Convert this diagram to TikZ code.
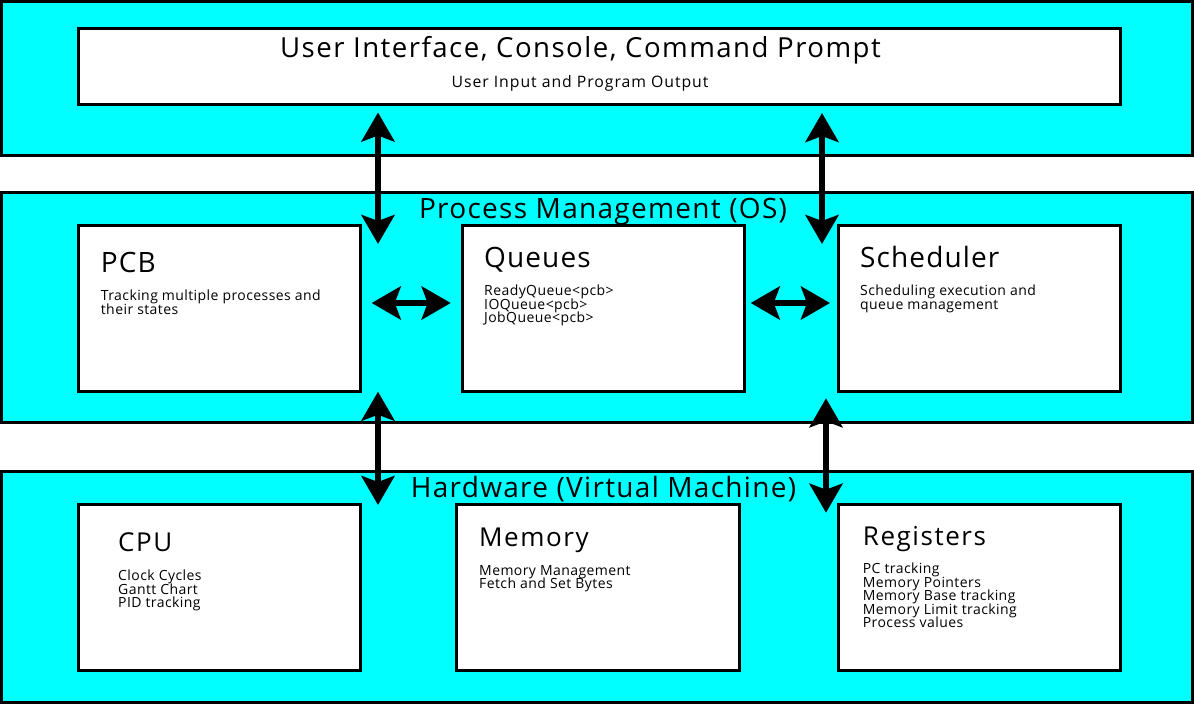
\documentclass[tikz,border=0pt]{standalone}
\usepackage{fontspec}
\setmainfont{Open Sans}
\usetikzlibrary{arrows.meta}
\definecolor{aqua}{RGB}{0,255,255}
\newcommand\mytightlines{\lineskiplimit=-50pt\relax\lineskip=0pt\relax}
\tikzset{
  layer/.style={draw=black, fill=aqua, line width=3pt, inner sep=0pt, outer sep=0pt},
  card/.style={draw=black, fill=white, line width=3pt, inner sep=0pt, outer sep=0pt, minimum width=282.2pt, minimum height=166pt},
  bigtitle/.style={font=\fontsize{27.6}{30}\selectfont\addfontfeature{LetterSpace=5.3}, inner sep=0pt, anchor=base},
  subtitle/.style={font=\fontsize{15.8}{18}\selectfont\addfontfeature{LetterSpace=6}, inner sep=0pt, anchor=base},
  sectitle/.style={font=\fontsize{28}{30}\selectfont\addfontfeature{LetterSpace=4.6}, inner sep=0pt, anchor=base},
  boxtitle/.style={font=\fontsize{28}{30}\selectfont\addfontfeature{LetterSpace=4}, inner sep=0pt, anchor=base west},
  lowtitle/.style={font=\fontsize{26}{28}\selectfont\addfontfeature{LetterSpace=6}, inner sep=0pt, anchor=base west},
  body/.style={font=\fontsize{14}{13.5}\selectfont\addfontfeature{LetterSpace=3}\mytightlines, inner sep=0pt, anchor=base west, align=left},
  link/.style={line width=6pt, {Stealth[length=29pt,width=33pt,inset=6pt]}-{Stealth[length=29pt,width=33pt,inset=6pt]}},
}
\begin{document}
\begin{tikzpicture}[x=1pt,y=-1pt]
\useasboundingbox (0,0) rectangle (1195,705);
% layers
\node[layer, minimum width=1190.5pt, minimum height=153.5pt] (toplayer) at (596.75,78.25) {};
\node[layer, minimum width=1190.5pt, minimum height=230.7pt] (oslayer) at (596.75,307.35) {};
\node[layer, minimum width=1190.5pt, minimum height=231pt] (hwlayer) at (596.75,586.8) {};
% cards
\node[card, minimum width=1041.5pt, minimum height=76pt] (ui) at (599.25,66.7) {};
\node[card] (pcb) at (219.6,308.3) {};
\node[card] (queues) at (603.6,308.3) {};
\node[card] (sched) at (979.8,308.3) {};
\node[card] (cpu) at (219.6,587.7) {};
\node[card] (mem) at (598,587.7) {};
\node[card] (regs) at (979.8,587.7) {};
% texts (body nodes are placed by the baseline of their last line)
\node[bigtitle] (uit) at (580.5,57.3) {User Interface, Console, Command Prompt};
\node[subtitle] (uis) at (580,87.5) {User Input and Program Output};
\node[sectitle] (ost) at (603,218.3) {Process Management (OS)};
\node[sectitle] (hwt) at (603.5,497) {Hardware (Virtual Machine)};
\node[boxtitle] (pcbt) at (100.7,272.7) {PCB};
\node[body] (pcbb) at (100.7,314.2) {Tracking multiple processes and\\their states};
\node[boxtitle] (queuest) at (484,267) {Queues};
\node[body] (queuesb) at (484,322.5) {ReadyQueue<pcb>\\IOQueue<pcb>\\JobQueue<pcb>};
\node[boxtitle] (schedt) at (860,267) {Scheduler};
\node[body] (schedb) at (860,309) {Scheduling execution and\\queue management};
\node[lowtitle] (cput) at (118,551.7) {CPU};
\node[body] (cpub) at (118,607.5) {Clock Cycles\\Gantt Chart\\PID tracking};
\node[lowtitle] (memt) at (479,546.7) {Memory};
\node[body] (memb) at (479,588.5) {Memory Management\\Fetch and Set Bytes};
\node[lowtitle] (regst) at (862.7,545) {Registers};
\node[body] (regsb) at (862.7,627.5) {PC tracking\\Memory Pointers\\Memory Base tracking\\Memory Limit tracking\\Process values};
% connector ends
\coordinate (a1t) at (378,112.5);
\coordinate (a1b) at (378,244);
\coordinate (a2t) at (822,113);
\coordinate (a2b) at (822,244);
\coordinate (h1l) at (371.7,303);
\coordinate (h1r) at (450.7,303);
\coordinate (h2l) at (750.7,303);
\coordinate (h2r) at (830,303);
\coordinate (a3t) at (378,391.7);
\coordinate (a3b) at (378,505);
\coordinate (a4t) at (826,398.3);
\coordinate (a4b) at (826,512.7);
\draw[link] (a1t) -- (a1b);
\draw[link] (a2t) -- (a2b);
\draw[link] (h1l) -- (h1r);
\draw[link] (h2l) -- (h2r);
\draw[link] (a3t) -- (a3b);
\draw[link] (a4t) -- (a4b);
\end{tikzpicture}
\end{document}
